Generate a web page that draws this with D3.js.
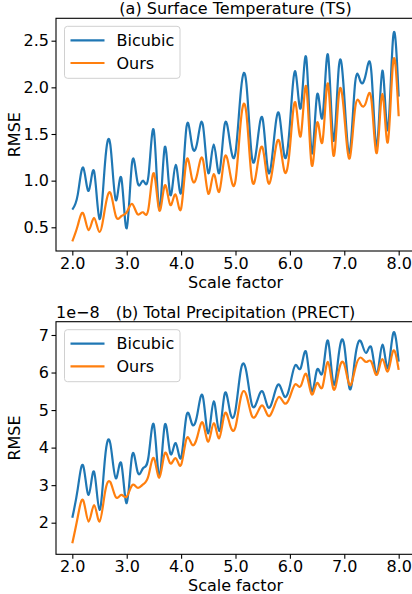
<!DOCTYPE html>
<html><head><meta charset="utf-8">
<script src="https://cdn.jsdelivr.net/npm/d3@7/dist/d3.min.js"></script>
<style>body{margin:0;background:#fff}svg{display:block}text{font-family:"DejaVu Sans",sans-serif;fill:#000}</style>
</head><body><svg id="c" width="412" height="594"></svg>
<script>
// ---- data ----
const scaleFactors = [2.0,2.1,2.2,2.3,2.4,2.5,2.6,2.7,2.8,2.9,3.0,3.1,3.2,3.3,3.4,3.5,3.6,3.7,3.8,3.9,
  4.0,4.1,4.2,4.3,4.4,4.5,4.6,4.7,4.8,4.9,5.0,5.1,5.2,5.3,5.4,5.5,5.6,5.7,5.8,5.9,
  6.0,6.1,6.2,6.3,6.4,6.5,6.6,6.7,6.8,6.9,7.0,7.1,7.2,7.3,7.4,7.5,7.6,7.7,7.8,7.9,8.0];
const seriesNames = ["Bicubic", "Ours"];
// (a) Surface Temperature (TS) RMSE
const tsBicubic = [0.69,0.85,1.14,0.89,1.10,0.59,1.18,1.38,0.79,1.03,0.49,1.20,0.98,1.00,1.05,1.53,0.69,1.36,0.85,1.17,
  0.87,1.58,1.38,1.42,1.60,1.08,1.39,1.08,1.60,1.40,1.30,1.97,2.04,1.26,1.40,1.66,1.10,1.40,1.72,1.26,
  1.60,2.17,1.78,2.32,1.30,1.92,1.68,2.35,1.43,2.22,1.90,1.30,2.05,2.06,2.15,2.15,1.36,2.18,1.54,2.55,1.90];
const tsOurs = [0.35,0.52,0.65,0.47,0.60,0.45,0.70,0.87,0.62,0.62,0.66,0.75,0.64,0.66,0.70,1.08,0.68,0.95,0.74,0.85,
  0.70,1.22,1.02,1.08,1.23,0.86,1.07,0.88,1.25,1.08,1.00,1.65,1.72,1.02,1.15,1.35,0.98,1.20,1.43,1.10,
  1.35,1.84,1.48,2.01,1.17,1.62,1.42,2.04,1.27,1.92,1.70,1.24,1.78,1.82,1.84,1.86,1.30,1.93,1.41,2.28,1.69];
// (b) Total Precipitation (PRECT) RMSE, in units of 1e-8
const prBicubic = [2.13,2.90,3.52,2.74,3.36,2.34,3.70,4.10,3.18,3.58,2.52,3.80,3.35,3.45,3.75,4.60,3.25,4.60,3.85,4.12,
  3.73,4.86,4.63,4.90,5.36,4.38,5.23,4.44,5.43,4.95,5.00,6.08,6.02,5.15,5.25,5.49,5.07,5.35,5.68,5.36,
  5.65,6.20,6.12,6.54,5.50,6.08,6.00,6.85,5.70,6.50,6.72,5.56,6.40,6.84,6.52,6.65,5.95,6.74,6.12,7.05,6.29];
const prOurs = [1.45,2.15,2.60,2.03,2.47,2.03,2.80,3.08,2.68,2.74,2.69,3.00,2.93,3.02,3.25,3.72,3.20,3.85,3.58,3.72,
  3.54,4.24,4.08,4.30,4.66,4.16,4.65,4.25,4.90,4.60,4.55,5.35,5.40,4.85,4.92,5.12,4.85,5.05,5.35,5.18,
  5.35,5.69,5.64,5.96,5.42,5.72,5.62,6.28,5.56,6.05,6.22,5.66,6.10,6.40,6.28,6.28,5.94,6.36,6.03,6.58,6.07];
const xTicks = [2.0, 3.0, 4.0, 5.0, 6.0, 7.0, 8.0];
const tsTicks = [0.5, 1.0, 1.5, 2.0, 2.5];
const prTicks = [2, 3, 4, 5, 6, 7];
const colors = ["#1f77b4", "#ff7f0e"];

// ---- drawing ----
const svg = d3.select("#c");
svg.append("rect").attr("width", 412).attr("height", 594).attr("fill", "#fff");

function panel(cfg) {
  const L = 56, R = 415;
  const x = d3.scaleLinear().domain([1.7, 8.3]).range([L, R]);
  const y = d3.scaleLinear().domain(cfg.yDomain).range([cfg.bottom, cfg.top]);
  const g = svg.append("g");

  // axes
  const xa = g.append("g").attr("transform", `translate(0,${cfg.bottom})`)
    .call(d3.axisBottom(x).tickValues(xTicks).tickFormat(d3.format(".1f")).tickSize(4.5).tickPadding(2));
  const ya = g.append("g").attr("transform", `translate(${L},0)`)
    .call(d3.axisLeft(y).tickValues(cfg.ticks).tickFormat(cfg.fmt).tickSize(4.5).tickPadding(2.5));
  [xa, ya].forEach(a => {
    a.select(".domain").remove();
    a.selectAll("line").attr("stroke", "#000").attr("stroke-width", 1.1);
    a.selectAll("text").attr("font-size", 16).attr("font-family", "DejaVu Sans").attr("fill", "#000");
  });

  // lines
  const line = d3.line().x((d, i) => x(scaleFactors[i])).y(d => y(d)).curve(d3.curveNatural);
  cfg.series.forEach((s, k) => {
    g.append("path").datum(s).attr("d", line).attr("fill", "none")
      .attr("stroke", colors[k]).attr("stroke-width", 2.2).attr("stroke-linejoin", "round");
  });

  // frame
  g.append("rect").attr("x", L).attr("y", cfg.top).attr("width", R - L).attr("height", cfg.bottom - cfg.top)
    .attr("fill", "none").attr("stroke", "#000").attr("stroke-width", 1.1);

  // title
  g.append("text").attr("x", (L + R) / 2).attr("y", cfg.top - 4).attr("text-anchor", "middle")
    .attr("font-size", 16).text(cfg.title);
  if (cfg.offset) {
    g.append("text").attr("x", L).attr("y", cfg.top - 4).attr("font-size", 16).text(cfg.offset);
  }
  // axis labels
  g.append("text").attr("x", (L + R) / 2).attr("y", cfg.bottom + 36.5).attr("text-anchor", "middle")
    .attr("font-size", 16).text("Scale factor");
  g.append("text").attr("transform", `translate(20,${(cfg.top + cfg.bottom) / 2}) rotate(-90)`)
    .attr("text-anchor", "middle").attr("font-size", 16).text("RMSE");

  // legend
  const lg = g.append("g").attr("transform", `translate(64.5,${cfg.top + 8})`);
  lg.append("rect").attr("width", 115.5).attr("height", 52).attr("rx", 3)
    .attr("fill", "#fff").attr("fill-opacity", 0.8).attr("stroke", "#d0d0d0");
  seriesNames.forEach((n, k) => {
    const yy = 14 + k * 22.7;
    lg.append("line").attr("x1", 6).attr("x2", 40).attr("y1", yy).attr("y2", yy)
      .attr("stroke", colors[k]).attr("stroke-width", 2.2);
    lg.append("text").attr("x", 52).attr("y", yy).attr("dy", "0.36em").attr("font-size", 16).text(n);
  });
}

panel({ top: 18.3, bottom: 251, yDomain: [0.246, 2.74], ticks: tsTicks, fmt: d3.format(".1f"),
  title: "(a) Surface Temperature (TS)", series: [tsBicubic, tsOurs] });
panel({ top: 321.7, bottom: 554.3, yDomain: [1.158, 7.354], ticks: prTicks, fmt: d3.format("d"),
  title: "(b) Total Precipitation (PRECT)", offset: "1e\u22128", series: [prBicubic, prOurs] });
</script></body></html>
